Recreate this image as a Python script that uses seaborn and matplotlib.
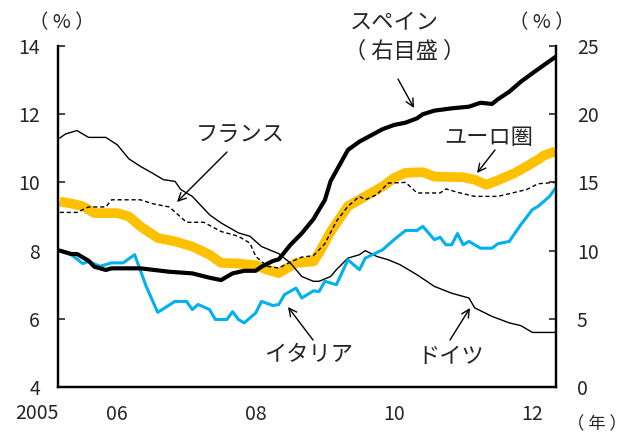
import numpy as np
import pandas as pd
import seaborn as sns
import matplotlib.pyplot as plt

# months counted from Jan 2005 = 0 (data run Mar 2005 - May 2012)
germany_m = [2, 3, 5, 7, 10, 12, 14, 16, 18, 20, 22, 23, 25, 28, 30, 33, 35, 37, 40, 42,
             44, 46, 47, 49, 50, 52, 54, 55, 57, 59, 61, 64, 67, 70, 73, 74, 77, 80, 82, 84, 88]
germany_v = [11.30, 11.42, 11.52, 11.32, 11.32, 11.10, 10.69, 10.47, 10.28, 10.08, 10.03, 9.79,
             9.59, 9.05, 8.81, 8.52, 8.42, 8.12, 7.91, 7.64, 7.24, 7.10, 7.10, 7.24, 7.44, 7.78,
             7.88, 8.00, 7.83, 7.73, 7.59, 7.29, 6.95, 6.75, 6.61, 6.32, 6.07, 5.88, 5.80, 5.60, 5.60]

france_m = [2, 5, 7, 10, 11, 16, 18, 21, 24, 27, 30, 33, 35, 36, 38, 40, 42, 44, 46, 48, 50,
            52, 54, 55, 57, 59, 62, 64, 68, 69, 71, 74, 78, 81, 83, 85, 88]
france_v = [9.12, 9.12, 9.28, 9.28, 9.49, 9.49, 9.38, 9.28, 8.83, 8.83, 8.56, 8.42, 8.22, 7.83,
            7.54, 7.49, 7.66, 7.81, 7.85, 8.20, 8.86, 9.30, 9.59, 9.49, 9.64, 9.98, 10.00, 9.69,
            9.69, 9.81, 9.71, 9.59, 9.59, 9.71, 9.79, 9.96, 10.00]

euro_m = [2, 4, 6, 8, 12, 14, 16, 19, 22, 25, 28, 30, 33, 36, 38, 40, 41, 43, 46, 47, 49,
          52, 55, 58, 60, 62, 65, 67, 72, 74, 76, 78, 81, 83, 85, 86, 88]
euro_v = [9.44, 9.38, 9.30, 9.10, 9.10, 9.00, 8.71, 8.37, 8.27, 8.12, 7.88, 7.64, 7.62, 7.57,
          7.44, 7.34, 7.44, 7.64, 7.68, 7.93, 8.55, 9.30, 9.59, 9.88, 10.13, 10.28, 10.30, 10.17,
          10.15, 10.08, 9.93, 10.06, 10.28, 10.47, 10.67, 10.79, 10.91]

italy_m = [2, 4, 6, 7, 9, 11, 13, 15, 17, 19, 22, 24, 25, 26, 28, 29, 31, 32, 33, 34, 36, 37,
           39, 40, 41, 43, 44, 46, 47, 48, 50, 52, 54, 55, 58, 60, 62, 64, 65, 67, 68, 69, 70,
           71, 72, 73, 75, 77, 78, 80, 82, 84, 85, 87, 88]
italy_v = [8.00, 7.88, 7.62, 7.68, 7.54, 7.64, 7.64, 7.88, 6.95, 6.19, 6.51, 6.51, 6.27, 6.42,
           6.27, 5.98, 5.98, 6.21, 5.98, 5.88, 6.17, 6.51, 6.39, 6.42, 6.71, 6.90, 6.61, 6.82,
           6.80, 7.10, 7.00, 7.73, 7.44, 7.78, 8.02, 8.32, 8.59, 8.59, 8.71, 8.32, 8.39, 8.17,
           8.17, 8.50, 8.17, 8.27, 8.07, 8.07, 8.20, 8.27, 8.76, 9.20, 9.30, 9.59, 9.83]

spain_m = [2, 4, 5, 7, 8, 10, 11, 16, 21, 25, 28, 30, 32, 34, 36, 37, 39, 40, 42, 44, 46, 48,
           49, 52, 54, 58, 60, 62, 64, 65, 67, 70, 73, 75, 77, 78, 80, 82, 84, 86, 88]
spain_v = [10.00, 9.75, 9.75, 9.26, 8.82, 8.58, 8.70, 8.70, 8.45, 8.33, 8.01, 7.84, 8.33, 8.52,
           8.52, 8.82, 9.24, 9.36, 10.41, 11.27, 12.30, 13.71, 15.10, 17.38, 17.99, 18.90, 19.21,
           19.38, 19.70, 20.00, 20.26, 20.43, 20.55, 20.84, 20.75, 21.09, 21.65, 22.38, 23.00,
           23.60, 24.20]

year_ticks = [12, 36, 60, 84]
year_labels = ["06", "08", "10", "12"]

W, H = 627, 438

sns.set_style("white")
plt.rcParams["font.family"] = ["Noto Sans CJK JP", "DejaVu Sans"]

fig, ax = plt.subplots(figsize=(W / 100, H / 100), dpi=100)
fig.subplots_adjust(left=58 / W, right=556 / W, top=1 - 46 / H, bottom=1 - 387 / H)
ax2 = ax.twinx()


def px(x, y):
    return (x / W, 1 - y / H)


def series(m, v):
    return pd.DataFrame({"month": m, "value": v})


sns.lineplot(data=series(euro_m, euro_v), x="month", y="value", ax=ax,
             color="#FFC000", lw=7, solid_capstyle="butt", zorder=1)
sns.lineplot(data=series(germany_m, germany_v), x="month", y="value", ax=ax,
             color="black", lw=1.0, zorder=2)
sns.lineplot(data=series(france_m, france_v), x="month", y="value", ax=ax,
             color="black", lw=1.0, ls=(0, (3, 2)), zorder=3)
sns.lineplot(data=series(italy_m, italy_v), x="month", y="value", ax=ax,
             color="#00B0F0", lw=2.2, zorder=4)
sns.lineplot(data=series(spain_m, spain_v), x="month", y="value", ax=ax2,
             color="black", lw=3.0, zorder=5)

xmin, xmax = 1.7, 88.1
ax.set_xlim(xmin, xmax)
ax.set_ylim(4, 14)
ax2.set_ylim(0, 25)
ax.set_yticks([4, 6, 8, 10, 12, 14])
ax2.set_yticks([0, 5, 10, 15, 20, 25])
ax.set_xticks(year_ticks)
ax.set_xticklabels(year_labels)
for a in (ax, ax2):
    a.set_xlabel("")
    a.set_ylabel("")
    a.spines["top"].set_visible(False)
    for s in ("left", "right", "bottom"):
        a.spines[s].set_linewidth(1.6)
        a.spines[s].set_color("black")

ax.tick_params(axis="y", direction="in", length=5, width=1.2, labelsize=14, pad=13)
ax2.tick_params(axis="y", direction="in", length=5, width=1.2, labelsize=14, pad=15)
ax.tick_params(axis="x", length=0, labelsize=14, pad=12)
ax.text(-2.0, -0.077, "2005", transform=ax.get_xaxis_transform(),
        ha="center", va="center", fontsize=14)

fig.text(*px(62, 23), "（ % ）", ha="center", va="center", fontsize=14)
fig.text(*px(542, 23), "（ % ）", ha="center", va="center", fontsize=14)
fig.text(*px(597, 424), "（ 年 ）", ha="center", va="center", fontsize=12.5)

lab = dict(ha="center", va="center", fontsize=16)
arrow = dict(arrowstyle="->", lw=1.0, color="black", mutation_scale=14, shrinkA=0, shrinkB=0)
fig.text(*px(394, 23), "スペイン", **lab)
fig.text(*px(405, 51), "（ 右目盛 ）", **lab)
fig.text(*px(240, 135), "フランス", **lab)
fig.text(*px(489, 137), "ユーロ圏", **lab)
fig.text(*px(309, 355), "イタリア", **lab)
fig.text(*px(451, 357), "ドイツ", **lab)

for tail, head in [((398, 79), (414, 108)), ((227, 152), (177, 202)),
                   ((495, 150), (477, 173)), ((313, 340), (288, 307)),
                   ((450, 340), (470, 308))]:
    ax.annotate("", xy=px(*head), xycoords="figure fraction",
                xytext=px(*tail), textcoords="figure fraction", arrowprops=arrow)

fig.savefig("out.png", dpi=100)
